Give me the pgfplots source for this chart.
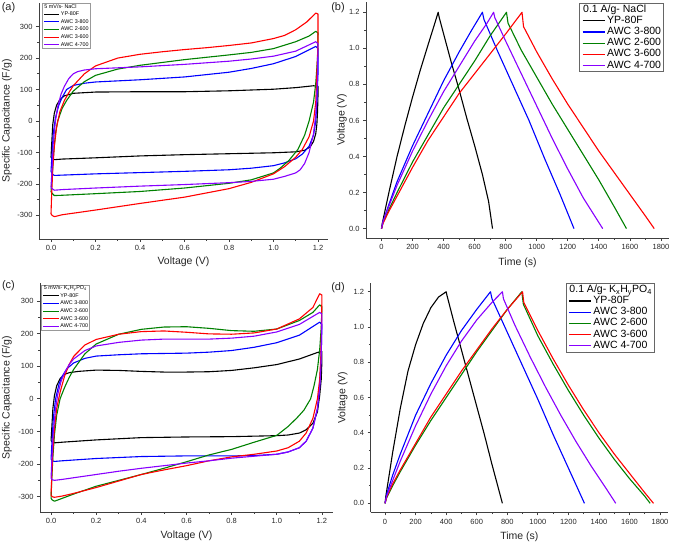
\documentclass[border=0pt]{standalone}
\usepackage{fontspec}
\setmainfont{Liberation Sans}
\usepackage{pgfplots}
\pgfplotsset{compat=1.18}
\definecolor{cBlk}{RGB}{0,0,0}
\definecolor{cBlu}{RGB}{0,0,255}
\definecolor{cGrn}{RGB}{0,128,0}
\definecolor{cRed}{RGB}{255,0,0}
\definecolor{cPur}{RGB}{136,0,255}
\pgfplotsset{
  panel/.style={
    scale only axis,
    axis x line*=bottom, axis y line*=left,
    axis line style={-, line width=0.8pt, black!75},
    tick align=outside,
    major tick length=3pt, minor tick length=1.8pt,
    every tick/.style={black!75, line width=0.7pt},
    minor tick num=1,
    /pgf/number format/assume math mode=true,
    /pgf/number format/1000 sep={},
    tick label style={font=\fontsize{7.5}{9}\selectfont, black!85},
    label style={font=\fontsize{10.5}{12}\selectfont, black!85},
    every axis plot/.append style={line width=1.1pt, line join=round},
    legend cell align=left,
  },
  cv/.style={
    xtick={0,0.2,0.4,0.6,0.8,1.0,1.2},
    ytick={-300,-200,-100,0,100,200,300},
    xticklabel style={/pgf/number format/.cd, fixed, fixed zerofill, precision=1},
    xlabel={Voltage (V)}, ylabel={Specific Capacitance (F/g)},
  },
  gcd/.style={
    xtick={0,200,400,600,800,1000,1200,1400,1600,1800},
    ytick={0,0.2,0.4,0.6,0.8,1.0,1.2},
    yticklabel style={/pgf/number format/.cd, fixed, fixed zerofill, precision=1},
    xlabel={Time (s)}, ylabel={Voltage (V)},
  },
  smallleg/.style={
    legend style={draw=black!40, line width=0.4pt, fill=white,
      font=\fontsize{5.4}{6}\selectfont, inner xsep=1.2pt, inner ysep=0.8pt,
      row sep=2.3pt, column sep=1pt,
      nodes={inner sep=0pt, text height=4.1pt, text depth=1.2pt}},
    legend image code/.code={\draw[##1, line width=1pt] (0pt,0pt) -- (15.5pt,0pt);},
  },
  bigleg/.style={
    legend style={draw=black!60, line width=0.5pt, fill=white,
      font=\fontsize{10.5}{12}\selectfont, inner xsep=2.5pt, inner ysep=1.5pt,
      row sep=1.3pt, column sep=2pt,
      nodes={inner sep=0pt, text height=7.6pt, text depth=2.2pt}},
    legend image code/.code={\draw[##1, line width=1.1pt] (0pt,0pt) -- (22pt,0pt);},
  },
}
\begin{document}
\begin{tikzpicture}
\path[use as bounding box] (0pt,0pt) rectangle (673pt,544pt);
\node[font=\fontsize{11}{13}\selectfont, black!85] at (8.5pt,536pt) {(a)};
\node[font=\fontsize{11}{13}\selectfont, black!85] at (338pt,536.5pt) {(b)};
\node[font=\fontsize{11}{13}\selectfont, black!85] at (8.5pt,258pt) {(c)};
\node[font=\fontsize{11}{13}\selectfont, black!85] at (338pt,256.5pt) {(d)};
% ---------------- (a)
\begin{axis}[panel, cv, smallleg, at={(39pt,305pt)}, anchor=south west,
  width=289pt, height=236pt, xmin=-0.054, xmax=1.245, ymin=-375, ymax=375,
  xlabel style={at={(axis description cs:0.5,0)}, anchor=center, yshift=-23pt},
  ylabel style={at={(axis description cs:-0.1107,0.5)}, anchor=center},
  legend style={at={(axis description cs:0.0104,1)}, anchor=north west}]
\addlegendimage{empty legend}\addlegendentry{\hspace*{-16.5pt}5 mV/s- NaCl}
\addplot[cBlk] coordinates {(0,-115) (0.004,-60) (0.008,-10) (0.015,25) (0.025,50) (0.04,68) (0.06,80) (0.1,88) (0.2,92) (0.4,93) (0.6,93) (0.8,96) (1.0,101) (1.1,106) (1.18,112) (1.2,110) (1.2,80) (1.198,30) (1.195,-10) (1.19,-40) (1.18,-65) (1.165,-82) (1.14,-93) (1.1,-98) (1.0,-101) (0.8,-104) (0.6,-107) (0.4,-111) (0.2,-117) (0.05,-121) (0.015,-123) (0.005,-120) (0,-115)};
\addlegendentry{YP-80F}
\addplot[cBlu] coordinates {(0,-160) (0.005,-100) (0.01,-40) (0.02,10) (0.035,50) (0.05,75) (0.07,100) (0.1,113) (0.15,120) (0.2,124) (0.4,131) (0.6,140) (0.8,155) (0.9,167) (1.0,182) (1.1,205) (1.19,237) (1.2,230) (1.2,150) (1.195,60) (1.19,0) (1.18,-45) (1.16,-80) (1.13,-105) (1.1,-120) (1.05,-133) (1.0,-142) (0.9,-150) (0.8,-155) (0.6,-160) (0.4,-164) (0.2,-168) (0.05,-172) (0.015,-173) (0.005,-168) (0,-160)};
\addlegendentry{AWC 3-800}
\addplot[cGrn] coordinates {(0,-225) (0.005,-180) (0.012,-100) (0.02,-40) (0.03,0) (0.05,40) (0.07,65) (0.1,95) (0.15,125) (0.2,145) (0.3,165) (0.4,177) (0.6,195) (0.8,210) (0.9,218) (1.0,230) (1.1,252) (1.16,270) (1.19,285) (1.2,280) (1.198,200) (1.19,120) (1.18,60) (1.16,0) (1.14,-45) (1.11,-90) (1.07,-125) (1.03,-150) (1.0,-165) (0.9,-187) (0.8,-198) (0.6,-213) (0.4,-224) (0.2,-231) (0.05,-236) (0.015,-237) (0.005,-230) (0,-225)};
\addlegendentry{AWC 2-600}
\addplot[cRed] coordinates {(0,-295) (0.003,-230) (0.008,-150) (0.015,-80) (0.025,-20) (0.04,30) (0.06,65) (0.08,90) (0.1,112) (0.15,150) (0.2,175) (0.3,200) (0.4,212) (0.5,220) (0.6,227) (0.7,233) (0.8,240) (0.9,248) (1.0,262) (1.05,272) (1.1,290) (1.15,315) (1.19,343) (1.2,340) (1.2,250) (1.195,150) (1.19,60) (1.18,0) (1.16,-50) (1.13,-90) (1.1,-115) (1.05,-145) (1.0,-168) (0.9,-195) (0.8,-215) (0.6,-242) (0.4,-262) (0.2,-283) (0.05,-298) (0.015,-304) (0.005,-300) (0,-295)};
\addlegendentry{AWC 3-600}
\addplot[cPur] coordinates {(0,-210) (0.005,-150) (0.01,-70) (0.02,0) (0.03,45) (0.045,85) (0.06,110) (0.08,135) (0.1,150) (0.12,157) (0.15,162) (0.2,166) (0.4,172) (0.6,180) (0.8,190) (0.9,197) (1.0,206) (1.1,222) (1.19,252) (1.2,245) (1.198,150) (1.195,80) (1.19,20) (1.18,-40) (1.16,-100) (1.14,-135) (1.12,-155) (1.1,-165) (1.05,-176) (1.0,-185) (0.9,-192) (0.8,-196) (0.6,-202) (0.4,-207) (0.2,-213) (0.05,-218) (0.015,-220) (0.005,-215) (0,-210)};
\addlegendentry{AWC 4-700}
\end{axis}
% ---------------- (b)
\begin{axis}[panel, gcd, bigleg, at={(366pt,306pt)}, anchor=south west,
  width=303pt, height=236pt, xmin=-100, xmax=1852, ymin=-0.052, ymax=1.257,
  xlabel style={at={(axis description cs:0.5,0)}, anchor=center, yshift=-25pt},
  ylabel style={at={(axis description cs:-0.0792,0.5)}, anchor=center},
  legend style={at={(axis description cs:0.983,0.995)}, anchor=north east}]
\addlegendimage{empty legend}\addlegendentry{\hspace*{-24pt}0.1 A/g- NaCl}
\addplot[cBlk] coordinates {(0,0) (5,0.03) (25,0.11) (50,0.21) (100,0.4) (150,0.57) (200,0.73) (250,0.88) (300,1.02) (340,1.13) (365,1.2) (372,1.17) (400,1.08) (450,0.92) (500,0.77) (550,0.61) (600,0.46) (650,0.3) (690,0.15) (715,0.0)};
\addlegendentry{YP-80F}
\addplot[cBlu] coordinates {(0,0) (10,0.04) (50,0.14) (100,0.26) (200,0.46) (300,0.64) (400,0.82) (500,0.98) (580,1.1) (650,1.2) (660,1.16) (750,0.98) (850,0.79) (950,0.6) (1050,0.39) (1150,0.19) (1240,0.0)};
\addlegendentry{AWC 3-800}
\addplot[cGrn] coordinates {(0,0) (10,0.035) (50,0.11) (100,0.2) (200,0.37) (300,0.52) (400,0.67) (500,0.8) (600,0.93) (700,1.07) (805,1.2) (815,1.14) (900,0.99) (1000,0.84) (1100,0.69) (1200,0.55) (1300,0.41) (1400,0.27) (1500,0.12) (1578,0)};
\addlegendentry{AWC 2-600}
\addplot[cRed] coordinates {(0,0) (10,0.03) (50,0.1) (100,0.18) (200,0.34) (300,0.49) (400,0.62) (500,0.75) (600,0.86) (700,0.97) (800,1.08) (905,1.2) (915,1.12) (1000,0.98) (1100,0.83) (1200,0.69) (1300,0.56) (1400,0.43) (1500,0.31) (1600,0.19) (1700,0.07) (1757,0)};
\addlegendentry{AWC 3-600}
\addplot[cPur] coordinates {(0,0) (10,0.04) (50,0.13) (100,0.24) (200,0.43) (300,0.6) (400,0.76) (500,0.9) (600,1.04) (680,1.14) (722,1.2) (730,1.17) (800,1.04) (900,0.86) (1000,0.68) (1100,0.5) (1200,0.33) (1300,0.17) (1425,0)};
\addlegendentry{AWC 4-700}
\end{axis}
% ---------------- (c)
\begin{axis}[panel, cv, smallleg, at={(40pt,32pt)}, anchor=south west,
  width=293pt, height=229pt, xmin=-0.049, xmax=1.249, ymin=-347, ymax=355,
  xlabel style={at={(axis description cs:0.5,0)}, anchor=center, yshift=-24pt},
  ylabel style={at={(axis description cs:-0.1126,0.5)}, anchor=center},
  legend style={at={(axis description cs:0.005,0.993)}, anchor=north west}]
\addlegendimage{empty legend}\addlegendentry{\hspace*{-16.5pt}5 mV/s- K\textsubscript{x}H\textsubscript{y}PO\textsubscript{4}}
\addplot[cBlk] coordinates {(0,-128) (0.004,-80) (0.008,-30) (0.015,10) (0.025,40) (0.04,62) (0.06,75) (0.08,80) (0.12,84) (0.2,88) (0.3,87) (0.4,84) (0.5,82) (0.6,82) (0.7,83) (0.8,87) (0.9,95) (1.0,105) (1.1,122) (1.18,142) (1.2,145) (1.2,120) (1.197,60) (1.19,10) (1.18,-40) (1.16,-75) (1.13,-95) (1.1,-105) (1.05,-111) (1.0,-113) (0.8,-116) (0.6,-117) (0.4,-119) (0.2,-126) (0.05,-133) (0.015,-135) (0.005,-132) (0,-128)};
\addlegendentry{YP-80F}
\addplot[cBlu] coordinates {(0,-185) (0.005,-120) (0.01,-60) (0.02,0) (0.035,45) (0.05,70) (0.07,92) (0.1,110) (0.15,124) (0.2,131) (0.3,135) (0.4,138) (0.6,140) (0.7,143) (0.8,148) (0.9,158) (1.0,172) (1.1,195) (1.19,235) (1.2,228) (1.197,140) (1.19,40) (1.18,-30) (1.16,-90) (1.13,-130) (1.1,-150) (1.05,-163) (1.0,-170) (0.9,-174) (0.8,-175) (0.6,-175) (0.4,-177) (0.2,-183) (0.05,-190) (0.015,-192) (0.005,-190) (0,-185)};
\addlegendentry{AWC 3-800}
\addplot[cGrn] coordinates {(0,-305) (0.003,-250) (0.008,-180) (0.015,-110) (0.025,-50) (0.04,0) (0.06,35) (0.08,65) (0.1,90) (0.15,138) (0.2,168) (0.3,198) (0.4,213) (0.5,220) (0.6,221) (0.7,216) (0.8,209) (0.9,207) (1.0,214) (1.1,240) (1.16,265) (1.19,288) (1.2,282) (1.197,220) (1.19,150) (1.18,90) (1.165,40) (1.15,0) (1.12,-35) (1.09,-58) (1.05,-85) (1.0,-112) (0.9,-133) (0.8,-155) (0.7,-172) (0.6,-193) (0.5,-213) (0.4,-232) (0.3,-250) (0.2,-268) (0.1,-292) (0.05,-305) (0.015,-314) (0.005,-310) (0,-305)};
\addlegendentry{AWC 2-600}
\addplot[cRed] coordinates {(0,-295) (0.003,-240) (0.008,-160) (0.015,-90) (0.025,-30) (0.04,20) (0.06,70) (0.08,105) (0.1,130) (0.15,165) (0.2,182) (0.3,198) (0.4,206) (0.5,208) (0.6,204) (0.7,199) (0.8,198) (0.9,202) (1.0,214) (1.1,245) (1.16,280) (1.19,322) (1.2,318) (1.198,220) (1.195,130) (1.19,60) (1.18,0) (1.16,-60) (1.13,-105) (1.1,-130) (1.05,-150) (1.0,-160) (0.9,-170) (0.8,-178) (0.7,-190) (0.6,-205) (0.5,-218) (0.4,-232) (0.3,-252) (0.2,-272) (0.1,-290) (0.05,-298) (0.015,-302) (0.005,-300) (0,-295)};
\addlegendentry{AWC 3-600}
\addplot[cPur] coordinates {(0,-243) (0.004,-180) (0.01,-100) (0.02,-30) (0.03,15) (0.045,55) (0.06,80) (0.08,105) (0.1,122) (0.15,148) (0.2,162) (0.3,173) (0.4,180) (0.5,183) (0.6,183) (0.7,183) (0.8,186) (0.9,192) (1.0,205) (1.1,228) (1.19,265) (1.2,260) (1.198,170) (1.195,90) (1.19,30) (1.18,-30) (1.16,-90) (1.13,-130) (1.1,-150) (1.05,-163) (1.0,-170) (0.9,-176) (0.8,-182) (0.7,-190) (0.6,-197) (0.5,-205) (0.4,-213) (0.3,-222) (0.2,-232) (0.05,-247) (0.015,-250) (0.005,-248) (0,-243)};
\addlegendentry{AWC 4-700}
\end{axis}
% ---------------- (d)
\begin{axis}[panel, gcd, bigleg, at={(370.7pt,31.7pt)}, anchor=south west,
  width=297.3pt, height=229pt, xmin=-94, xmax=1852, ymin=-0.051, ymax=1.248,
  xlabel style={at={(axis description cs:0.5,0)}, anchor=center, yshift=-24pt},
  ylabel style={at={(axis description cs:-0.094,0.5)}, anchor=center},
  legend style={at={(axis description cs:0.955,1.0)}, anchor=north east}]
\addlegendimage{empty legend}\addlegendentry{\hspace*{-24pt}0.1 A/g- K\textsubscript{x}H\textsubscript{y}PO\textsubscript{4}}
\addplot[cBlk] coordinates {(0,0) (5,0.04) (25,0.15) (50,0.29) (100,0.54) (150,0.75) (200,0.9) (250,1.02) (300,1.11) (350,1.17) (400,1.2) (405,1.18) (450,1.03) (500,0.87) (550,0.71) (600,0.55) (650,0.39) (700,0.22) (768,0)};
\addlegendentry{YP-80F}
\addplot[cBlu] coordinates {(0,0) (10,0.05) (50,0.16) (100,0.28) (200,0.5) (300,0.68) (400,0.84) (500,0.98) (600,1.1) (690,1.2) (700,1.16) (800,0.97) (900,0.78) (1000,0.59) (1100,0.39) (1200,0.2) (1305,0)};
\addlegendentry{AWC 3-800}
\addplot[cGrn] coordinates {(0,0) (10,0.03) (50,0.1) (100,0.18) (200,0.33) (300,0.47) (400,0.6) (500,0.73) (600,0.86) (700,0.98) (800,1.1) (895,1.2) (905,1.13) (1000,0.95) (1100,0.79) (1200,0.64) (1300,0.5) (1400,0.37) (1500,0.25) (1600,0.14) (1700,0.04) (1735,0)};
\addlegendentry{AWC 2-600}
\addplot[cRed] coordinates {(0,0) (10,0.035) (50,0.11) (100,0.19) (200,0.34) (300,0.49) (400,0.62) (500,0.75) (600,0.87) (700,0.99) (800,1.1) (900,1.2) (908,1.14) (1000,0.98) (1100,0.82) (1200,0.67) (1300,0.53) (1400,0.4) (1500,0.28) (1600,0.17) (1700,0.06) (1757,0)};
\addlegendentry{AWC 3-600}
\addplot[cPur] coordinates {(0,0) (10,0.04) (50,0.13) (100,0.24) (200,0.44) (300,0.62) (400,0.78) (500,0.92) (600,1.04) (700,1.14) (768,1.2) (775,1.16) (850,1.01) (950,0.83) (1050,0.66) (1150,0.5) (1250,0.35) (1350,0.21) (1450,0.08) (1510,0)};
\addlegendentry{AWC 4-700}
\end{axis}
\end{tikzpicture}
\end{document}
